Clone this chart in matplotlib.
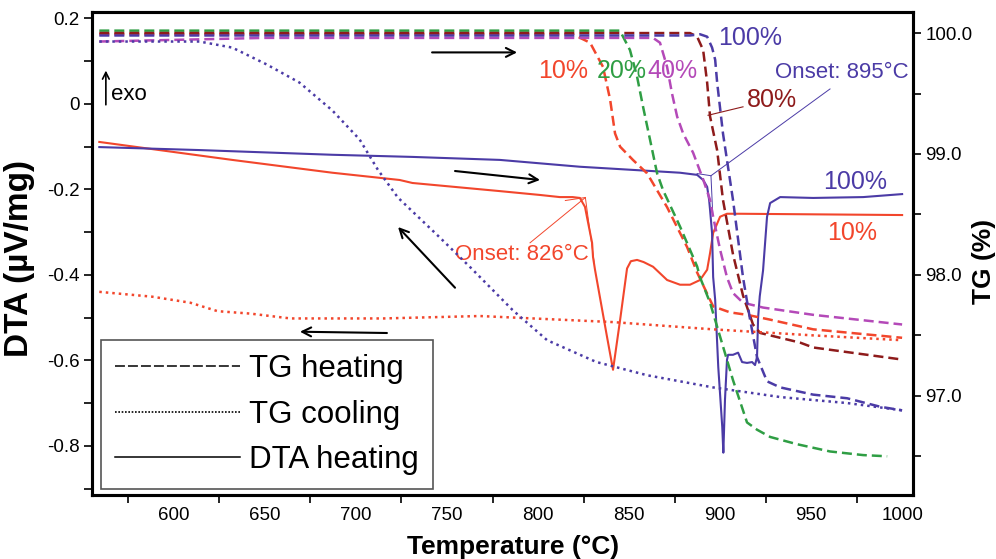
import numpy as np
import matplotlib.pyplot as plt
from matplotlib.lines import Line2D
from matplotlib.ticker import MultipleLocator, FuncFormatter

plt.rcParams["font.family"] = ["Liberation Sans", "DejaVu Sans"]
plt.rcParams["axes.unicode_minus"] = False

# TG on heating (dashed, right axis), one curve per sample
tg_heat_10_T = [559, 724, 819, 828.6, 835.7, 839.6, 842.3, 845.1, 852.2, 859.9,
                870.9, 881.9, 887.4, 896.2, 905.5, 914.8, 927.5, 951.1, 1000]
tg_heat_10 = [99.99, 99.99, 99.99, 99.92, 99.72, 99.45, 99.17, 99.06, 98.95, 98.84,
              98.56, 98.23, 98.02, 97.74, 97.69, 97.67, 97.63, 97.55, 97.48]

tg_heat_20_T = [559, 724, 845, 846.7, 850.5, 854.4, 857.7, 861.5, 865.4, 868.7, 878.0,
                887.4, 889.0, 894.5, 900.0, 907.1, 914.8, 920.3, 927.5, 942.3, 960.4,
                978.6, 991.8]
tg_heat_20 = [100.02, 100.02, 100.02, 99.97, 99.86, 99.64, 99.39, 99.12, 98.84, 98.70,
              98.40, 98.07, 97.98, 97.77, 97.49, 97.13, 96.78, 96.72, 96.66, 96.60,
              96.54, 96.51, 96.50]

tg_heat_40_T = [559, 650, 724, 863.2, 867.0, 870.9, 873.6, 876.4, 879.7, 885.2,
                890.7, 894.5, 896.2, 900.0, 903.8, 907.1, 912.6, 923.6, 951.1, 1000]
tg_heat_40 = [99.93, 99.96, 99.96, 99.96, 99.92, 99.72, 99.50, 99.31, 99.17, 99.01,
              98.79, 98.62, 98.48, 98.21, 97.98, 97.85, 97.77, 97.73, 97.67, 97.59]

tg_heat_80_T = [559, 724, 883.5, 887.4, 890.7, 892.9, 894.5, 898.4, 901.6, 907.1,
                912.6, 918.1, 922.0, 944.0, 951.1, 1000]
tg_heat_80 = [100.0, 100.0, 100.0, 99.97, 99.86, 99.59, 99.31, 99.03, 98.62, 98.17,
              97.83, 97.59, 97.52, 97.44, 97.40, 97.30]

tg_heat_100_T = [559, 724, 883.5, 889.0, 892.9, 895.6, 897.3, 898.4, 901.6, 907.1,
                 912.6, 916.5, 920.3, 925.8, 933.0, 951.1, 969.8, 987.9, 1000]
tg_heat_100 = [99.98, 99.98, 99.98, 99.99, 99.97, 99.88, 99.78, 99.59, 99.17, 98.62,
               97.98, 97.63, 97.32, 97.12, 97.07, 97.01, 96.98, 96.91, 96.88]

# TG on cooling (dotted, right axis)
tg_cool_10_T = [559, 588, 609, 624, 642, 664, 715, 768, 841, 896, 951, 1000]
tg_cool_10 = [97.86, 97.82, 97.77, 97.70, 97.68, 97.64, 97.64, 97.66, 97.61, 97.55,
              97.50, 97.46]

tg_cool_100_T = [559, 614, 632, 651, 669, 687, 702, 712, 723, 746, 763, 786, 805,
                 832, 860, 896, 933, 970, 1000]
tg_cool_100 = [99.93, 99.93, 99.88, 99.74, 99.59, 99.36, 99.12, 98.87, 98.64, 98.31,
               98.06, 97.71, 97.46, 97.28, 97.17, 97.07, 96.99, 96.94, 96.88]

# DTA on heating (solid, left axis)
dta_10_T = [559, 632, 687, 724, 731, 779, 801, 812, 819, 823, 825.8, 827.5, 829.7,
            830.2, 831.3, 837.9, 841.2, 845.1, 848.9, 851.0, 854.4, 858.0, 863.2,
            870.9, 878.0, 883.5, 889.0, 892.9, 894.5, 896.2, 900.0, 903.8, 911.0, 1000]
dta_10 = [-0.089, -0.131, -0.161, -0.178, -0.185, -0.204, -0.213, -0.218, -0.218,
          -0.220, -0.241, -0.278, -0.325, -0.358, -0.388, -0.545, -0.622, -0.505,
          -0.385, -0.368, -0.365, -0.370, -0.381, -0.412, -0.423, -0.423, -0.412,
          -0.388, -0.349, -0.302, -0.264, -0.257, -0.257, -0.260]

dta_100_T = [559, 614, 687, 731, 779, 823, 878, 887.4, 890.7, 892.9, 894.0, 894.5,
             895.6, 896.2, 897.3, 899.0, 901.2, 901.8, 902.7, 903.8, 904.4, 907.1,
             909.9, 912.1, 914.8, 917.6, 919.2, 920.3, 920.9, 921.8, 923.6, 925.8,
             927.5, 933.0, 951.1, 978.6, 1000]
dta_100 = [-0.101, -0.108, -0.119, -0.124, -0.131, -0.147, -0.161, -0.166, -0.178,
           -0.194, -0.225, -0.248, -0.302, -0.405, -0.458, -0.615, -0.756, -0.816,
           -0.692, -0.599, -0.587, -0.587, -0.582, -0.604, -0.606, -0.604, -0.611,
           -0.592, -0.500, -0.450, -0.390, -0.264, -0.232, -0.218, -0.220, -0.218,
           -0.211]

# onset temperatures (°C) and the baseline level they sit on
onset_10, onset_10_dta = 826, -0.219
onset_100, onset_100_dta = 895, -0.168

BLUE = "#4b3ba6"
RED = "#f2462c"
GREEN = "#2f9e44"
PURPLE = "#b449b8"
DARKRED = "#8e1b1b"

DASH = (0, (4, 2))
DOT = (0, (1.0, 1.6))

fig = plt.figure(figsize=(9.96, 5.59), dpi=100)
ax = fig.add_axes([0.0924, 0.1145, 0.8243, 0.864])
ax2 = ax.twinx()

# DTA
ax.plot(dta_10_T, dta_10, color=RED, lw=1.5)
ax.plot(dta_100_T, dta_100, color=BLUE, lw=1.5)

# TG heating / cooling
for T, tg, c in [(tg_heat_10_T, tg_heat_10, RED), (tg_heat_20_T, tg_heat_20, GREEN),
                 (tg_heat_40_T, tg_heat_40, PURPLE), (tg_heat_80_T, tg_heat_80, DARKRED),
                 (tg_heat_100_T, tg_heat_100, BLUE)]:
    ax2.plot(T, tg, color=c, lw=1.8, ls=DASH)
ax2.plot(tg_cool_10_T, tg_cool_10, color=RED, lw=1.8, ls=DOT)
ax2.plot(tg_cool_100_T, tg_cool_100, color=BLUE, lw=1.8, ls=DOT)

ax.set_xlim(555, 1006)
ax.set_ylim(-0.915, 0.215)
ax2.set_ylim(96.18, 100.174)

# axes styling
for a in (ax, ax2):
    for s in a.spines.values():
        s.set_linewidth(2.2)
ax.xaxis.set_major_locator(MultipleLocator(50))
ax.xaxis.set_minor_locator(MultipleLocator(25))
ax.tick_params(axis="x", which="major", length=0, pad=9, labelsize=13.5)
ax.tick_params(axis="x", which="minor", length=6, width=1.2)
ax.yaxis.set_major_locator(MultipleLocator(0.2))
ax.yaxis.set_minor_locator(MultipleLocator(0.1))
ax.yaxis.set_major_formatter(FuncFormatter(lambda v, p: f"{v:.1f}" if abs(v) > 1e-9 else "0"))
ax.tick_params(axis="y", which="both", length=6, width=1.2, labelsize=13.5, pad=3)
ax2.yaxis.set_major_locator(MultipleLocator(1.0))
ax2.yaxis.set_minor_locator(MultipleLocator(0.5))
ax2.yaxis.set_major_formatter(FuncFormatter(lambda v, p: f"{v:.1f}"))
ax2.tick_params(axis="y", which="both", length=6, width=1.2, labelsize=13.5, pad=3)

ax.set_xlabel("Temperature (°C)", fontsize=19, fontweight="bold")
ax.xaxis.set_label_coords(0.513, -0.083)
ax.set_ylabel("DTA (µV/mg)", fontsize=24, fontweight="bold")
ax.yaxis.set_label_coords(-0.069, 0.49)
ax2.set_ylabel("TG (%)", fontsize=19, fontweight="bold")
ax2.yaxis.set_label_coords(1.072, 0.483)

# labels for the curves
ax2.text(899, 99.96, "100%", color=BLUE, fontsize=18, va="center")
ax2.text(800, 99.69, "10%", color=RED, fontsize=18, va="center")
ax2.text(832.4, 99.69, "20%", color=GREEN, fontsize=18, va="center")
ax2.text(860, 99.69, "40%", color=PURPLE, fontsize=18, va="center")
ax2.text(914.8, 99.45, "80%", color=DARKRED, fontsize=18, va="center")
ax2.plot([893.4, 912.6], [99.32, 99.39], color=DARKRED, lw=0.8)
ax.text(956.6, -0.182, "100%", color=BLUE, fontsize=18, va="center")
ax.text(958.8, -0.302, "10%", color=RED, fontsize=18, va="center")

# onset constructions
ax.text(930.2, 0.0725, f"Onset: {onset_100}°C", color=BLUE, fontsize=16, va="center")
ax.plot([960.4, onset_100], [0.035, onset_100_dta], color=BLUE, lw=0.7)
ax.plot([887.4, onset_100, 896.0], [-0.163, onset_100_dta, -0.26], color=BLUE, lw=0.7)
ax.text(754.4, -0.353, f"Onset: {onset_10}°C", color=RED, fontsize=16, va="center")
ax.plot([795.6, onset_10], [-0.325, onset_10_dta], color=RED, lw=0.7)
ax.plot([815, onset_10, 830.8], [-0.226, onset_10_dta, -0.37], color=RED, lw=0.7)

# heating / cooling direction arrows
arrow = dict(arrowstyle="->", color="black", lw=1.5, mutation_scale=16, shrinkA=0, shrinkB=0)
ax2.annotate("", xy=(788.5, 99.84), xytext=(741.8, 99.84), arrowprops=arrow)
ax.annotate("", xy=(801.1, -0.178), xytext=(754.4, -0.157), arrowprops=arrow)
ax.annotate("", xy=(723.1, -0.288), xytext=(754.4, -0.430), arrowprops=arrow)
ax.annotate("", xy=(669.2, -0.533), xytext=(717.0, -0.536), arrowprops=arrow)

ax.annotate("", xy=(562.6, 0.078), xytext=(562.6, -0.002),
            arrowprops=dict(arrowstyle="->", color="black", lw=1.2, mutation_scale=12,
                            shrinkA=0, shrinkB=0))
ax.text(565.5, 0.021, "exo", fontsize=16, va="center")

handles = [
    Line2D([], [], color="black", lw=1.1, ls=(0, (6.5, 2))),
    Line2D([], [], color="black", lw=1.2, ls=(0, (1, 1))),
    Line2D([], [], color="black", lw=1.1),
]
leg = ax2.legend(handles, ["TG heating", "TG cooling", "DTA heating"],
                 loc="lower left", bbox_to_anchor=(0.011, 0.012), borderaxespad=0,
                 fontsize=22.5, handlelength=4.0, handletextpad=0.3, labelspacing=0.5,
                 borderpad=0.45, fancybox=False, framealpha=1, edgecolor="#555555")
leg.get_frame().set_linewidth(1.2)

fig.savefig("out.png", dpi=100)
